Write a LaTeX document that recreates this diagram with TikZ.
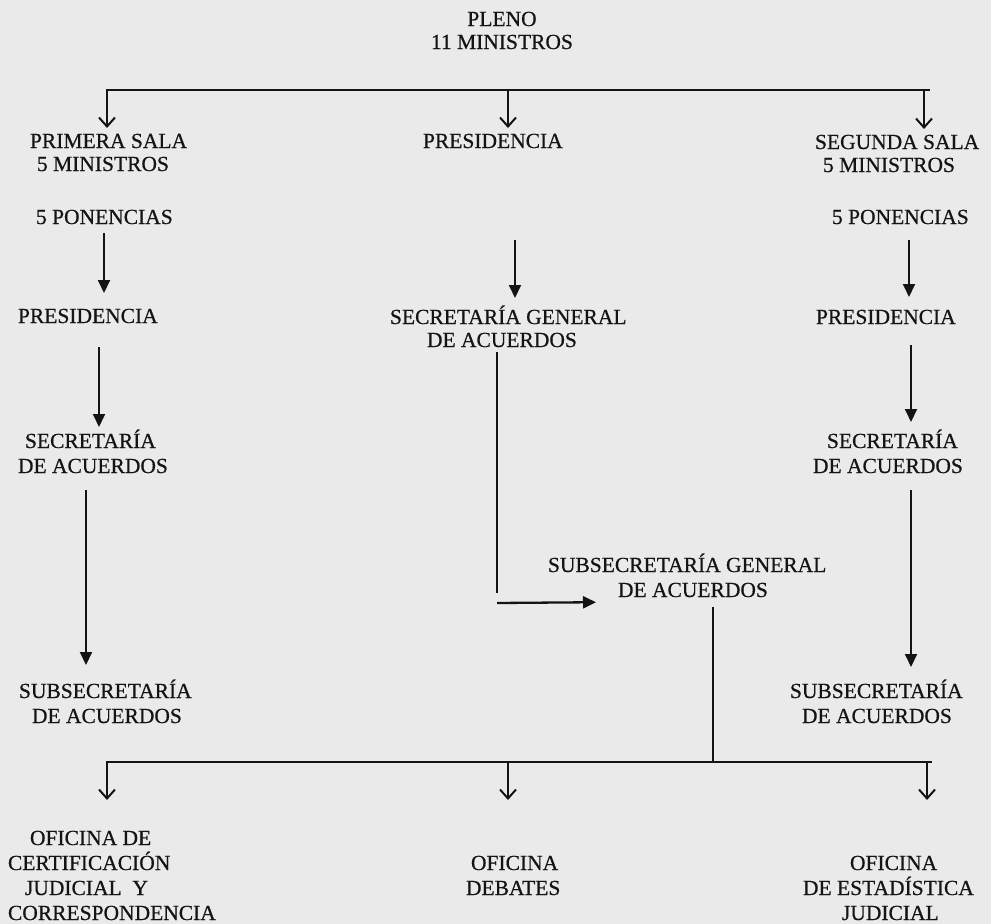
\documentclass[tikz,border=0pt]{standalone}
\usepackage{fontspec}
\setmainfont[FakeBold=0.6]{Liberation Serif}
\usetikzlibrary{arrows.meta,calc}
\definecolor{bg}{HTML}{EAEAEA}
\definecolor{ink}{HTML}{141414}
\newcommand\tp{\rule{0pt}{20pt}}
\begin{document}
\begin{tikzpicture}[x=1pt,y=-1pt,
  lbl/.style={inner sep=0pt,outer sep=0pt,text=ink,font=\fontsize{21.5}{23}\selectfont,align=left,anchor=north west},
  lbl25/.style={lbl,font=\fontsize{21.5}{25}\selectfont},
  bar/.style={draw=ink,line width=2.5pt},
  oa/.style={draw=ink,line width=2pt,-{Straight Barb[length=9pt,width=16pt,line width=2pt]}},
  fa/.style={draw=ink,line width=1.9pt,-{Triangle[length=13pt,width=12pt]}},
  ln/.style={draw=ink,line width=1.9pt}]
\fill[bg] (0,0) rectangle (991,924);
\useasboundingbox (0,0) rectangle (991,924);

% nodes
\node[lbl,align=center,anchor=north] (pleno) at (502,6) {\tp PLENO\\11 MINISTROS};
\node[lbl] (prim) at (30,128) {\tp PRIMERA SALA\\\hspace*{7pt}5 MINISTROS};
\node[lbl] (presM) at (423,128) {\tp PRESIDENCIA};
\node[lbl] (seg) at (815,129) {\tp SEGUNDA SALA\\\hspace*{8pt}5 MINISTROS};
\node[lbl] (ponL) at (36,204) {\tp 5 PONENCIAS};
\node[lbl] (ponR) at (832,204) {\tp 5 PONENCIAS};
\node[lbl] (presL) at (18,303) {\tp PRESIDENCIA};
\node[lbl] (presR) at (816,304) {\tp PRESIDENCIA};
\node[lbl] (sg) at (390,304) {\tp SECRETARÍA GENERAL\\\hspace*{37pt}DE ACUERDOS};
\node[lbl25] (secL) at (18,428) {\tp\hspace*{7pt}SECRETARÍA\\DE ACUERDOS};
\node[lbl25] (secR) at (813,428) {\tp\hspace*{14pt}SECRETARÍA\\DE ACUERDOS};
\node[lbl25] (ssg) at (548,552) {\tp SUBSECRETARÍA GENERAL\\\hspace*{70pt}DE ACUERDOS};
\node[lbl25] (subL) at (19,678) {\tp SUBSECRETARÍA\\\hspace*{13pt}DE ACUERDOS};
\node[lbl25] (subR) at (790,678) {\tp SUBSECRETARÍA\\\hspace*{12pt}DE ACUERDOS};
\node[lbl25] (offL) at (8,825) {\tp\hspace*{22pt}OFICINA DE\\CERTIFICACIÓN\\\hspace*{17pt}JUDICIAL\ \ Y\\CORRESPONDENCIA};
\node[lbl25] (offM) at (466,850) {\tp\hspace*{5pt}OFICINA\\DEBATES};
\node[lbl25] (offR) at (803,850) {\tp\hspace*{47pt}OFICINA\\DE ESTADÍSTICA\\\hspace*{39pt}JUDICIAL};

% top bar
\coordinate (t1) at (107,90);
\coordinate (t2) at (508,90);
\coordinate (t3) at (924,90);
\coordinate (tL) at (106,90);
\coordinate (tR) at (930,90);
\draw[bar] (tL) -- (tR);
\draw[oa] (t1) -- (t1 |- prim.north);
\draw[oa] (t2) -- (t2 |- presM.north);
\draw[oa] (t3) -- (t3 |- seg.north);

% left column
\coordinate (cL1) at (104,0);
\coordinate (cL2) at (99,0);
\coordinate (cL3) at (86,0);
\draw[fa,shorten <=9pt,shorten >=10pt] (cL1 |- ponL.south) -- (cL1 |- presL.north);
\draw[fa,shorten <=24pt,shorten >=1pt] (cL2 |- presL.south) -- (cL2 |- secL.north);
\draw[fa,shorten <=17pt,shorten >=13pt] (cL3 |- secL.south) -- (cL3 |- subL.north);

% middle column
\coordinate (cM) at (515,0);
\draw[fa,shorten <=92pt,shorten >=6pt] (cM |- presM.south) -- (cM |- sg.north);
\coordinate (elb) at (497,593);
\coordinate (elbh) at (497,603);
\draw[ln,shorten <=5pt] (elb |- sg.south) -- (elb);
\draw[fa,line width=2.3pt] (elbh) -- ($(ssg.south west)+(48,5)$);
\coordinate (bj) at (713,762);
\draw[ln,shorten <=10pt] (bj |- ssg.south) -- (bj);

% right column
\coordinate (cR1) at (909,0);
\coordinate (cR2) at (911,0);
\draw[fa,shorten <=16pt,shorten >=7pt] (cR1 |- ponR.south) -- (cR1 |- presR.north);
\draw[fa,shorten <=21pt,shorten >=6pt] (cR2 |- presR.south) -- (cR2 |- secR.north);
\draw[fa,shorten <=17pt,shorten >=11pt] (cR2 |- secR.south) -- (cR2 |- subR.north);

% bottom bar
\coordinate (b1) at (107,762);
\coordinate (b2) at (508,762);
\coordinate (b3) at (927,762);
\coordinate (bL) at (106,762);
\coordinate (bR) at (932,762);
\draw[bar] (bL) -- (bR);
\draw[oa,shorten >=25pt] (b1) -- (b1 |- offL.north);
\draw[oa,shorten >=50pt] (b2) -- (b2 |- offM.north);
\draw[oa,shorten >=50pt] (b3) -- (b3 |- offR.north);
\end{tikzpicture}
\end{document}
